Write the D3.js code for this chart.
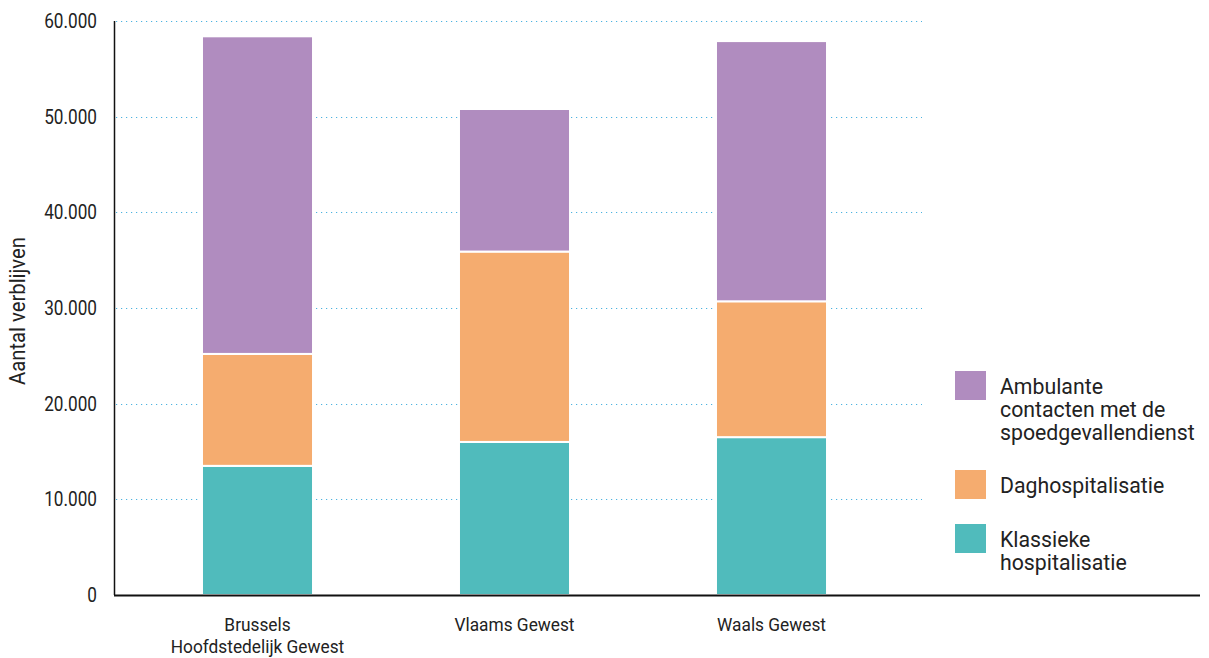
<!DOCTYPE html>
<html><head><meta charset="utf-8">
<script src="https://cdn.jsdelivr.net/npm/d3@7/dist/d3.min.js"></script>
<style>body{margin:0;background:#fff}svg{display:block}text{font-family:"Roboto",sans-serif;fill:#222}</style>
</head><body><svg id="c" width="1209" height="658"></svg>
<script>
const categories = [["Brussels","Hoofdstedelijk Gewest"],["Vlaams Gewest"],["Waals Gewest"]];
const categoryKeys = ["Brussels Hoofdstedelijk Gewest","Vlaams Gewest","Waals Gewest"];
const seriesNames = ["Klassieke hospitalisatie","Daghospitalisatie","Ambulante contacten met de spoedgevallendienst"];
const klassiek = [13500, 16000, 16500];
const dagho = [11700, 19900, 14200];
const ambulant = [33200, 14900, 27200];
const yTicks = [0,10000,20000,30000,40000,50000,60000];
const colors = ["#50bbbc","#f5ac6f","#b08cbf"];
const legendLines = [["Ambulante","contacten met de","spoedgevallendienst"],["Daghospitalisatie"],["Klassieke","hospitalisatie"]];
const legendColorIdx = [2,1,0];

const svg = d3.select("#c");
const y = d3.scaleLinear().domain([0,60000]).range([595,21]);
const x = d3.scaleBand().domain(categoryKeys).range([129,900]).paddingInner(0.568).paddingOuter(0.284);
const fmt = v => d3.format(",")(v).replace(/,/g,".");

// gridlines
svg.append("g").selectAll("line").data(yTicks.filter(d=>d>0)).join("line")
  .attr("x1",116).attr("x2",922).attr("y1",d=>Math.round(y(d))+0.5).attr("y2",d=>Math.round(y(d))+0.5)
  .attr("stroke","#4db3e0").attr("stroke-width",1.2).attr("stroke-dasharray","1.2,3.8");

// stacked bars
const rows = categoryKeys.map((k,i)=>({key:k, s0:klassiek[i], s1:dagho[i], s2:ambulant[i]}));
const stack = d3.stack().keys(["s0","s1","s2"])(rows);
svg.append("g").selectAll("g").data(stack).join("g").attr("fill",(d,i)=>colors[i])
  .selectAll("rect").data(d=>d).join("rect")
  .attr("x",d=>x(d.data.key)).attr("width",x.bandwidth())
  .attr("y",d=>y(d[1])).attr("height",d=>y(d[0])-y(d[1]))
  .attr("stroke","#fff").attr("stroke-width",2);

// axes
svg.append("line").attr("x1",114.5).attr("x2",114.5).attr("y1",21).attr("y2",595).attr("stroke","#111").attr("stroke-width",1.5);
svg.append("line").attr("x1",114).attr("x2",1200).attr("y1",595.5).attr("y2",595.5).attr("stroke","#111").attr("stroke-width",2);
svg.append("g").selectAll("text").data(yTicks).join("text")
  .attr("transform",d=>`translate(97,${y(d)+7}) scale(0.86,1)`).attr("text-anchor","end").attr("font-size",20).text(fmt);

// x labels
svg.append("g").selectAll("text").data(categories).join("text")
  .attr("text-anchor","middle").attr("font-size",19)
  .attr("transform",(d,i)=>`translate(${x(categoryKeys[i])+x.bandwidth()/2},631) scale(0.91,1)`)
  .selectAll("tspan").data(d=>d).join("tspan").attr("x",0).attr("dy",(d,j)=>j?22:0).text(d=>d);

// y title
svg.append("text").attr("transform","translate(25,311) rotate(-90) scale(0.92,1)").attr("text-anchor","middle").attr("font-size",22).text("Aantal verblijven");

// legend
const legTop = [371,470,524];
const lg = svg.append("g").selectAll("g").data(legendLines).join("g").attr("transform",(d,i)=>`translate(955,${legTop[i]})`);
lg.append("rect").attr("width",31).attr("height",29).attr("fill",(d,i)=>colors[legendColorIdx[i]]);
lg.append("text").attr("font-size",21.5).attr("transform","translate(45,0) scale(0.99,1)").selectAll("tspan").data(d=>d).join("tspan")
  .attr("x",0).attr("y",(d,j)=>23+j*23).text(d=>d);
</script></body></html>
